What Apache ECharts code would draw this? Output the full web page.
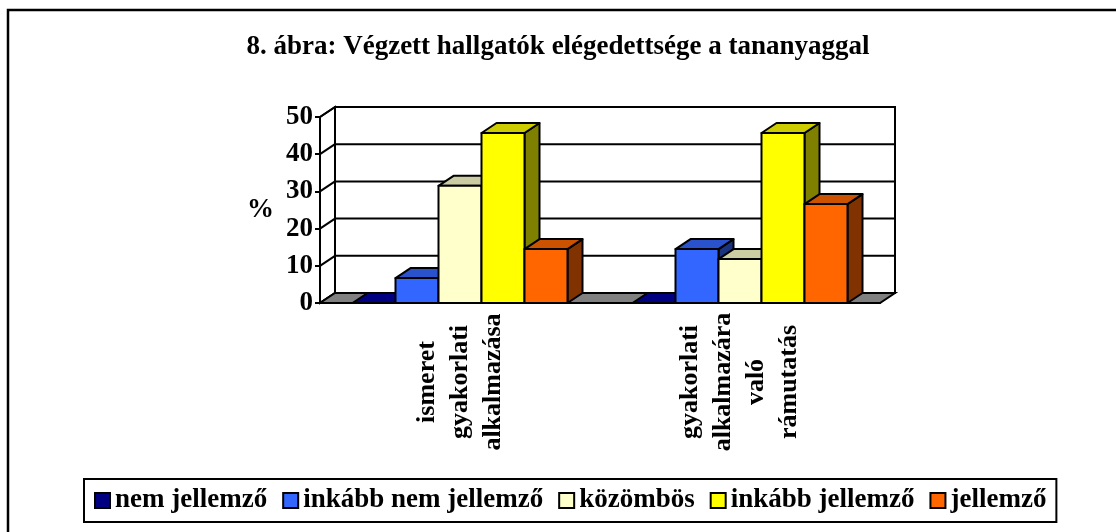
<!DOCTYPE html>
<html lang="hu">
<head>
    <meta charset="UTF-8">
    <title>8. ábra</title>
    <style>
        body {
            margin: 0;
            padding: 0;
            background-color: #fff;
        }
        #main {
            width: 1116px;
            height: 532px;
        }
    </style>
</head>
<body>
<div id="main"></div>

<script src="https://cdn.jsdelivr.net/npm/echarts/dist/echarts.min.js"></script>
<script>
    // chart data
    const categories = ['ismeret\ngyakorlati\nalkalmazása', 'gyakorlati\nalkalmazára\nvaló\nrámutatás'];
    const seriesNames = ['nem jellemző', 'inkább nem jellemző', 'közömbös', 'inkább jellemző', 'jellemző'];
    const nemJellemzo = [0, 0];
    const inkabbNemJellemzo = [6.7, 14.5];
    const kozombos = [31.5, 11.8];
    const inkabbJellemzo = [45.7, 45.7];
    const jellemzo = [14.5, 26.6];
    const yTicks = [0, 10, 20, 30, 40, 50];

    const values = [nemJellemzo, inkabbNemJellemzo, kozombos, inkabbJellemzo, jellemzo];
    // front, top, side colours (Excel 3D look)
    const colors = [
        ['#000080', '#000080', '#000060'],
        ['#3366FF', '#2952CC', '#1A3380'],
        ['#FFFFCC', '#CCCCA3', '#808066'],
        ['#FFFF00', '#CCCC00', '#808000'],
        ['#FF6600', '#CC5200', '#803300']
    ];

    const DX = 15, DY = -10;      // depth offset of the 3D look
    const BAR_FRAC = 43 / 280;    // bar width as part of one category band
    const font = 'Liberation Serif';

    function renderFrame(params, api) {
        const band = api.size([1, 0])[0];
        const x0 = api.coord([0, 0])[0] - band / 2;
        const x1 = api.coord([categories.length - 1, 0])[0] + band / 2;
        const yB = api.coord([0, yTicks[0]])[1];
        const yT = api.coord([0, yTicks[yTicks.length - 1]])[1];
        const line = {stroke: '#000', lineWidth: 2};
        const children = [
            {type: 'rect', shape: {x: x0 + DX, y: yT + DY, width: x1 - x0, height: yB - yT},
                style: {fill: '#fff', stroke: '#000', lineWidth: 2}},
            {type: 'polygon', shape: {points: [[x0, yB], [x0 + DX, yB + DY], [x0 + DX, yT + DY], [x0, yT]]},
                style: {fill: '#fff', stroke: '#000', lineWidth: 2}}
        ];
        yTicks.forEach(v => {
            const y = api.coord([0, v])[1];
            children.push({type: 'line', shape: {x1: x0 + DX, y1: y + DY, x2: x1 + DX, y2: y + DY}, style: line});
            children.push({type: 'line', shape: {x1: x0, y1: y, x2: x0 + DX, y2: y + DY}, style: line});
        });
        children.push({type: 'polygon', shape: {points: [[x0, yB], [x1, yB], [x1 + DX, yB + DY], [x0 + DX, yB + DY]]},
            style: {fill: '#808080', stroke: '#000', lineWidth: 2}});
        return {type: 'group', children: children};
    }

    function makeBarRenderer(k) {
        return function (params, api) {
            const cat = api.value(0);
            const base = api.coord([cat, 0]);
            const top = api.coord([cat, api.value(1)]);
            const bw = api.size([1, 0])[0] * BAR_FRAC;
            const xL = base[0] + (k - seriesNames.length / 2) * bw;
            const xR = xL + bw;
            const yt = top[1], yb = base[1];
            const st = {stroke: '#000', lineWidth: 2, lineJoin: 'round'};
            return {
                type: 'group',
                children: [
                    {type: 'polygon', shape: {points: [[xR, yt], [xR + DX, yt + DY], [xR + DX, yb + DY], [xR, yb]]},
                        style: Object.assign({fill: colors[k][2]}, st)},
                    {type: 'polygon', shape: {points: [[xL, yt], [xR, yt], [xR + DX, yt + DY], [xL + DX, yt + DY]]},
                        style: Object.assign({fill: colors[k][1]}, st)},
                    {type: 'rect', shape: {x: xL, y: yt, width: bw, height: yb - yt},
                        style: Object.assign({fill: colors[k][0]}, st)}
                ]
            };
        };
    }

    const myChart = echarts.init(document.getElementById('main'));

    const series = [{
        name: 'frame',
        type: 'custom',
        z: 1,
        silent: true,
        renderItem: renderFrame,
        data: [[0, 0]]
    }];
    seriesNames.forEach((name, k) => {
        series.push({
            name: name,
            type: 'custom',
            z: 2 + k,
            renderItem: makeBarRenderer(k),
            itemStyle: {color: colors[k][0], borderColor: '#000', borderWidth: 2},
            data: values[k].map((v, i) => [i, v])
        });
    });

    const option = {
        backgroundColor: '#fff',
        animation: false,
        title: {
            text: '8. ábra: Végzett hallgatók elégedettsége a tananyaggal',
            left: 'center',
            top: 29,
            textStyle: {fontFamily: font, fontWeight: 'bold', fontSize: 27, color: '#000'}
        },
        legend: {
            data: seriesNames,
            left: 84,
            top: 479,
            padding: [8, 10],
            itemGap: 15,
            itemWidth: 15,
            itemHeight: 15,
            icon: 'rect',
            borderColor: '#000',
            borderWidth: 2,
            itemStyle: {borderColor: '#000', borderWidth: 2},
            textStyle: {fontFamily: font, fontWeight: 'bold', fontSize: 27, color: '#000'}
        },
        graphic: [{
            type: 'rect',
            shape: {x: 8, y: 10, width: 1200, height: 600},
            style: {fill: 'none', stroke: '#000', lineWidth: 2.5},
            silent: true
        }],
        grid: {left: 320, right: 236, top: 117, bottom: 229},
        xAxis: {
            type: 'category',
            data: categories,
            axisLine: {lineStyle: {color: '#000', width: 2}},
            axisTick: {length: 6, lineStyle: {color: '#000', width: 2}},
            axisLabel: {
                interval: 0,
                rotate: 90,
                align: 'center',
                verticalAlign: 'middle',
                margin: 79,
                lineHeight: 33,
                fontFamily: font,
                fontWeight: 'bold',
                fontSize: 26,
                color: '#000'
            }
        },
        yAxis: {
            type: 'value',
            min: yTicks[0],
            max: yTicks[yTicks.length - 1],
            interval: 10,
            name: '%',
            nameLocation: 'middle',
            nameRotate: 0,
            nameGap: 46,
            nameTextStyle: {fontFamily: font, fontWeight: 'bold', fontSize: 27, color: '#000'},
            axisLine: {show: true, lineStyle: {color: '#000', width: 2}},
            axisTick: {show: true, length: 5, lineStyle: {color: '#000', width: 2}},
            splitLine: {show: false},
            axisLabel: {margin: 7, fontFamily: font, fontWeight: 'bold', fontSize: 27, color: '#000'}
        },
        series: series
    };

    myChart.setOption(option);
</script>

</body>
</html>
